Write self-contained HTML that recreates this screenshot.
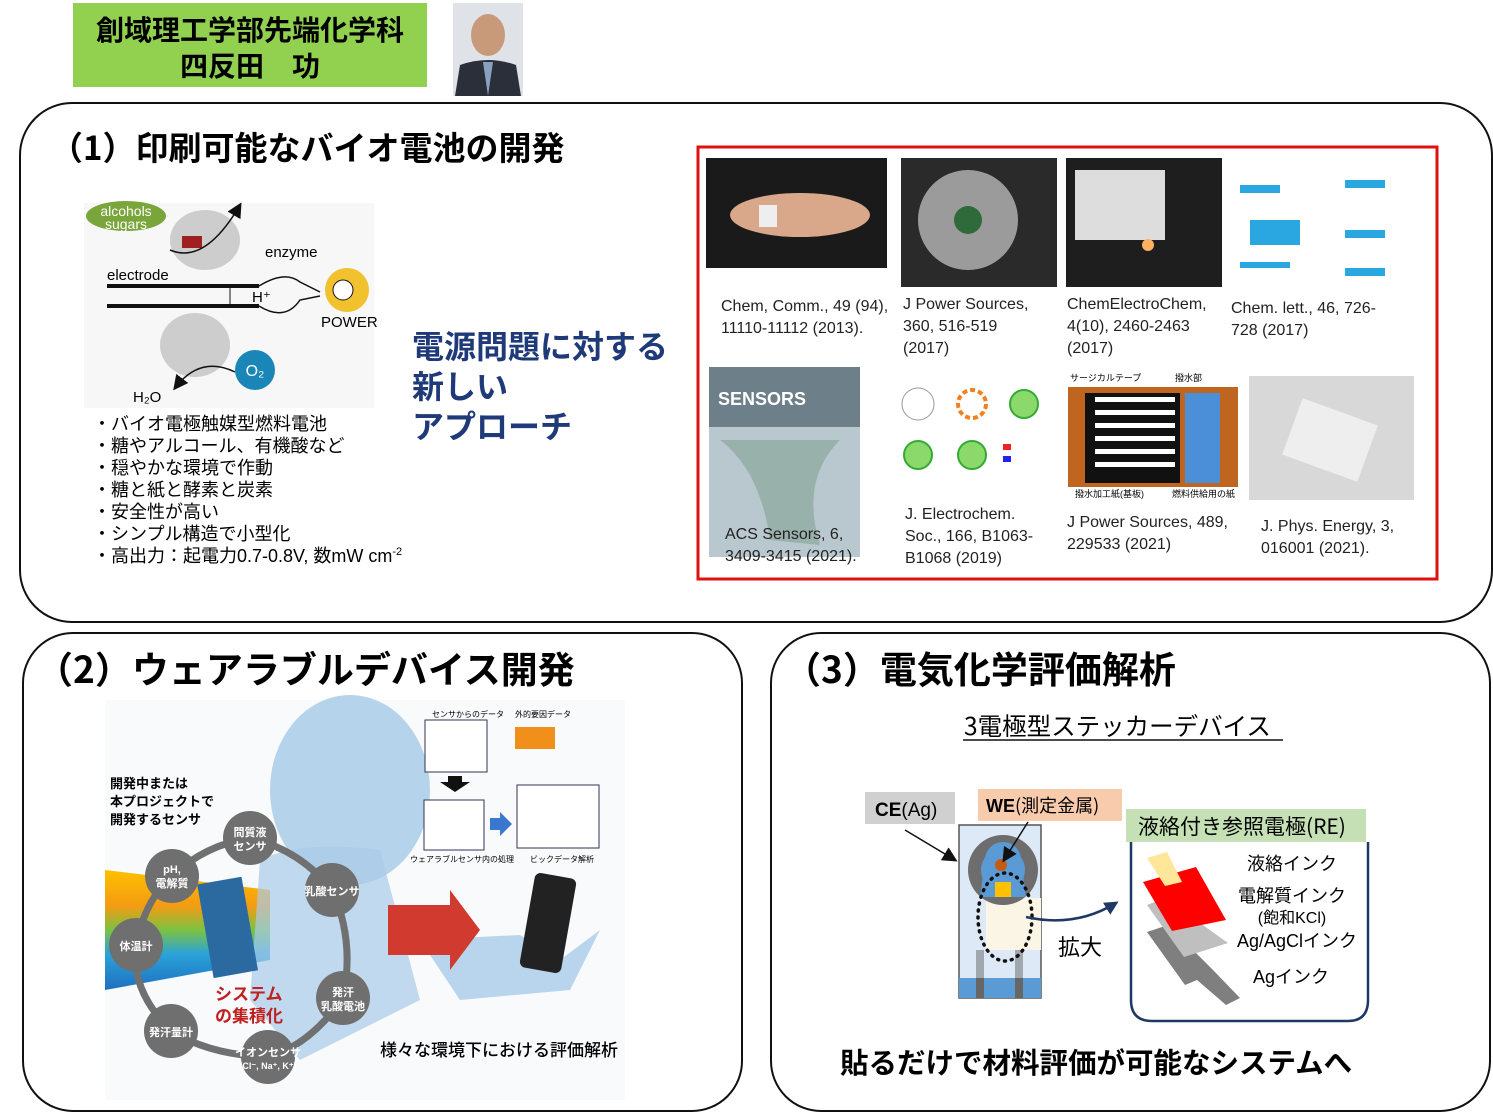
<!DOCTYPE html>
<html><head><meta charset="utf-8"><style>
html,body{margin:0;padding:0;background:#fff;width:1493px;height:1114px;overflow:hidden}
svg{display:block}
text{font-family:"Liberation Sans","Noto Sans CJK JP",sans-serif}
.j{font-family:"Noto Sans CJK JP",sans-serif}
</style></head><body>
<svg width="1493" height="1114" viewBox="0 0 1493 1114" xmlns="http://www.w3.org/2000/svg">
<defs>
<marker id="ar" markerWidth="10" markerHeight="10" refX="8" refY="5" orient="auto"><path d="M0,0 L10,5 L0,10 z" fill="#111"/></marker>
<marker id="arb" markerUnits="userSpaceOnUse" markerWidth="14" markerHeight="14" refX="11" refY="7" orient="auto"><path d="M0,0 L14,7 L0,14 z" fill="#1f3864"/></marker>
<linearGradient id="rb" x1="0" y1="0" x2="0" y2="1">
<stop offset="0" stop-color="#ffc000"/><stop offset="0.3" stop-color="#f39c12"/><stop offset="0.5" stop-color="#7cc242"/><stop offset="0.7" stop-color="#29a3d9"/><stop offset="1" stop-color="#1f6fbf"/></linearGradient>
</defs>
<!-- header -->
<rect x="73" y="3" width="354" height="84" fill="#92d050"/>
<text x="250" y="40" font-size="28" font-weight="bold" text-anchor="middle" class="j">創域理工学部先端化学科</text>
<text x="250" y="76" font-size="28" font-weight="bold" text-anchor="middle" class="j">四反田　功</text>
<rect x="453" y="3" width="70" height="93" fill="#dfe3e8"/>
<ellipse cx="488" cy="35" rx="17" ry="21" fill="#c99a7a"/>
<path d="M455,96 L460,65 Q488,55 516,65 L521,96z" fill="#2b2f3a"/>
<path d="M483,62 L488,96 L493,62z" fill="#8aa0c0"/>

<!-- panel 1 -->
<rect x="20" y="103" width="1472" height="519" rx="52" fill="none" stroke="#111" stroke-width="2"/>
<text x="50" y="160" font-size="33" class="j" font-weight="bold">（1）印刷可能なバイオ電池の開発</text>
<rect x="84" y="203" width="290" height="205" fill="#f7f7f7"/>
<ellipse cx="126" cy="216" rx="40" ry="15" fill="#7aa53a"/>
<text x="126" y="216" font-size="14" fill="#fff" text-anchor="middle">alcohols</text>
<text x="126" y="229" font-size="14" fill="#fff" text-anchor="middle">sugars</text>
<ellipse cx="205" cy="240" rx="35" ry="30" fill="#bbb" opacity="0.7"/>
<ellipse cx="195" cy="345" rx="35" ry="32" fill="#bbb" opacity="0.7"/>
<rect x="182" y="236" width="20" height="12" fill="#a02020"/>
<text x="265" y="257" font-size="15">enzyme</text>
<text x="107" y="280" font-size="15">electrode</text>
<rect x="107" y="284" width="152" height="4" fill="#111"/>
<rect x="107" y="304" width="152" height="4" fill="#111"/>
<path d="M259,286 Q285,270 300,282 L320,292 M259,306 Q285,322 300,300 L320,296" fill="none" stroke="#111" stroke-width="1.5"/>
<circle cx="347" cy="290" r="22" fill="#f2c12e"/>
<circle cx="343" cy="290" r="10" fill="#fff" stroke="#111"/>
<text x="252" y="302" font-size="15">H⁺</text>
<line x1="230" y1="288" x2="230" y2="304" stroke="#111"/>
<text x="321" y="327" font-size="15">POWER</text>
<circle cx="255" cy="370" r="20" fill="#1a86b8"/>
<text x="255" y="376" font-size="16" fill="#fff" text-anchor="middle">O₂</text>
<text x="133" y="402" font-size="15">H₂O</text>
<path d="M170,250 Q205,265 240,205" fill="none" stroke="#111" stroke-width="1.5" marker-end="url(#ar)"/>
<path d="M235,372 Q200,355 175,388" fill="none" stroke="#111" stroke-width="1.5" marker-end="url(#ar)"/>
<g font-size="18" class="j">
<text x="93" y="430">・バイオ電極触媒型燃料電池</text>
<text x="93" y="452">・糖やアルコール、有機酸など</text>
<text x="93" y="474">・穏やかな環境で作動</text>
<text x="93" y="496">・糖と紙と酵素と炭素</text>
<text x="93" y="518">・安全性が高い</text>
<text x="93" y="540">・シンプル構造で小型化</text>
<text x="93" y="562">・高出力：起電力0.7-0.8V, 数mW cm<tspan font-size="11" dy="-7">-2</tspan></text>
</g>
<g font-size="32" font-weight="bold" fill="#1f3a78" class="j">
<text x="412" y="358">電源問題に対する</text>
<text x="412" y="398">新しい</text>
<text x="412" y="438">アプローチ</text>
</g>
<rect x="698" y="147" width="739" height="432" fill="#fff" stroke="#e01010" stroke-width="3"/>
<rect x="706" y="158" width="181" height="110" fill="#1a1a1a"/>
<ellipse cx="800" cy="215" rx="70" ry="22" fill="#d9a88a"/>
<rect x="759" y="205" width="18" height="22" fill="#eee"/>
<rect x="901" y="158" width="156" height="129" fill="#2a2a2a"/>
<circle cx="968" cy="220" r="50" fill="#ccc" opacity="0.7"/>
<circle cx="968" cy="220" r="14" fill="#2f6b3a"/>
<rect x="1066" y="158" width="156" height="129" fill="#1e1e1e"/>
<rect x="1075" y="170" width="90" height="70" fill="#ddd"/>
<circle cx="1148" cy="245" r="6" fill="#ffb060"/>
<g fill="#2aa7e0"><rect x="1240" y="185" width="40" height="8"/><rect x="1345" y="180" width="40" height="8"/><rect x="1250" y="220" width="50" height="25"/><rect x="1345" y="230" width="40" height="8"/><rect x="1240" y="262" width="50" height="6"/><rect x="1345" y="268" width="40" height="8"/></g>
<g font-size="16" fill="#222">
<text x="721" y="311">Chem, Comm., 49 (94),</text>
<text x="721" y="333">11110-11112 (2013).</text>
<text x="903" y="309">J Power Sources,</text>
<text x="903" y="331">360, 516-519</text>
<text x="903" y="353">(2017)</text>
<text x="1067" y="309">ChemElectroChem,</text>
<text x="1067" y="331">4(10), 2460-2463</text>
<text x="1067" y="353">(2017)</text>
<text x="1231" y="313">Chem. lett., 46, 726-</text>
<text x="1231" y="335">728 (2017)</text>
</g>
<rect x="709" y="367" width="151" height="190" fill="#b9c8cf"/>
<rect x="709" y="367" width="151" height="60" fill="#6d7f88"/>
<text x="718" y="405" font-size="18" font-weight="bold" fill="#fff">SENSORS</text>
<path d="M720,440 Q760,470 770,540 L820,545 Q800,480 840,440z" fill="#8aa69a" opacity="0.7"/>
<g font-size="16" fill="#222">
<text x="725" y="539">ACS Sensors, 6,</text>
<text x="725" y="561">3409-3415 (2021).</text>
</g>
<circle cx="918" cy="404" r="16" fill="#fff" stroke="#999"/>
<circle cx="972" cy="404" r="14" fill="none" stroke="#f08020" stroke-width="4" stroke-dasharray="5 3"/>
<circle cx="1024" cy="404" r="14" fill="#8bd96b" stroke="#3a3" stroke-width="2"/>
<circle cx="918" cy="455" r="14" fill="#8bd96b" stroke="#3a3" stroke-width="2"/>
<circle cx="972" cy="455" r="14" fill="#8bd96b" stroke="#3a3" stroke-width="2"/>
<rect x="1003" y="444" width="8" height="6" fill="#e22"/><rect x="1003" y="456" width="8" height="6" fill="#22e"/>
<g font-size="16" fill="#222">
<text x="905" y="519">J. Electrochem.</text>
<text x="905" y="541">Soc., 166, B1063-</text>
<text x="905" y="563">B1068 (2019)</text>
</g>
<rect x="1068" y="387" width="170" height="100" fill="#c0651f"/>
<rect x="1085" y="393" width="95" height="90" fill="#111"/>
<g fill="#fff"><rect x="1095" y="397" width="80" height="5"/><rect x="1095" y="410" width="80" height="5"/><rect x="1095" y="423" width="80" height="5"/><rect x="1095" y="436" width="80" height="5"/><rect x="1095" y="449" width="80" height="5"/><rect x="1095" y="462" width="80" height="5"/></g>
<rect x="1185" y="393" width="35" height="90" fill="#4a8fd8"/>
<text x="1070" y="381" font-size="9">サージカルテープ</text><text x="1175" y="381" font-size="9">撥水部</text>
<text x="1075" y="497" font-size="9">撥水加工紙(基板)</text><text x="1172" y="497" font-size="9">燃料供給用の紙</text>
<g font-size="16" fill="#222">
<text x="1067" y="527">J Power Sources, 489,</text>
<text x="1067" y="549">229533 (2021)</text>
</g>
<rect x="1249" y="376" width="165" height="124" fill="#d8d8d8"/>
<rect x="1290" y="410" width="80" height="60" fill="#eee" transform="rotate(20 1330 440)"/>
<g font-size="16" fill="#222">
<text x="1261" y="531">J. Phys. Energy, 3,</text>
<text x="1261" y="553">016001 (2021).</text>
</g>

<!-- panel 2 -->
<rect x="23" y="633" width="719" height="478" rx="50" fill="none" stroke="#111" stroke-width="2"/>
<text x="36" y="683" font-size="37" class="j" font-weight="bold">（2）ウェアラブルデバイス開発</text>
<rect x="105" y="700" width="520" height="400" fill="#f8fafc"/>
<path d="M105,870 L270,890 L270,960 L105,990z" fill="url(#rb)"/>
<ellipse cx="350" cy="790" rx="80" ry="95" fill="#a9cbe8" opacity="0.85"/>
<path d="M260,860 Q300,840 380,850 L420,1000 L300,1060 L250,1000z" fill="#a9cbe8" opacity="0.7"/>
<path d="M420,940 L520,935 L560,960 L600,930 L570,990 L460,1000z" fill="#a9cbe8" opacity="0.8"/>
<path d="M388,905 L450,905 L450,890 L480,930 L450,970 L450,955 L388,955z" fill="#d03a2f"/>
<rect x="527" y="875" width="42" height="96" rx="6" fill="#222" transform="rotate(10 548 923)"/>
<rect x="205" y="880" width="45" height="95" fill="#2b6aa0" transform="rotate(-10 227 927)"/>
<path d="M250,838 Q300,850 332,890 Q355,940 343,998 Q310,1045 268,1057 Q210,1055 171,1031 Q130,990 136,945 Q145,900 172,876 Q205,845 250,838z" fill="none" stroke="#707070" stroke-width="7"/>
<g fill="#6f6f6f">
<circle cx="250" cy="838" r="27"/><circle cx="172" cy="876" r="27"/><circle cx="332" cy="890" r="27"/><circle cx="136" cy="945" r="27"/><circle cx="171" cy="1031" r="27"/><circle cx="343" cy="998" r="27"/><circle cx="268" cy="1057" r="27"/>
</g>
<g font-size="11" fill="#fff" text-anchor="middle" class="j" font-weight="bold">
<text x="250" y="836">間質液</text><text x="250" y="850">センサ</text>
<text x="172" y="873">pH,</text><text x="172" y="887">電解質</text>
<text x="332" y="895">乳酸センサ</text>
<text x="136" y="950">体温計</text>
<text x="171" y="1036">発汗量計</text>
<text x="343" y="996">発汗</text><text x="343" y="1010">乳酸電池</text>
<text x="268" y="1056">イオンセンサ</text><text x="268" y="1069" font-size="9">(Cl⁻, Na⁺, K⁺)</text>
</g>
<g font-size="13" font-weight="bold" class="j"><text x="110" y="788">開発中または</text><text x="110" y="806">本プロジェクトで</text><text x="110" y="824">開発するセンサ</text></g>
<g font-size="17" font-weight="bold" fill="#c0201f" class="j"><text x="215" y="1000">システム</text><text x="215" y="1022">の集積化</text></g>
<text x="380" y="1056" font-size="17" class="j" font-weight="500">様々な環境下における評価解析</text>
<rect x="425" y="720" width="62" height="52" fill="#fff" stroke="#335"/>
<rect x="515" y="727" width="40" height="22" fill="#f0901a"/>
<rect x="424" y="800" width="60" height="50" fill="#fff" stroke="#335"/>
<rect x="517" y="785" width="82" height="63" fill="#fff" stroke="#335"/>
<path d="M448,776 L462,776 L462,782 L470,782 L455,792 L440,782 L448,782z" fill="#111"/>
<path d="M490,818 L500,818 L500,812 L512,824 L500,836 L500,830 L490,830z" fill="#3a78d0"/>
<g font-size="8" class="j"><text x="432" y="717">センサからのデータ</text><text x="515" y="717">外的要因データ</text><text x="410" y="862">ウェアラブルセンサ内の処理</text><text x="530" y="862">ビックデータ解析</text></g>

<!-- panel 3 -->
<rect x="771" y="633" width="719" height="478" rx="50" fill="none" stroke="#111" stroke-width="2"/>
<text x="784" y="683" font-size="37" class="j" font-weight="bold">（3）電気化学評価解析</text>
<text x="964" y="735" font-size="24.5" class="j">3電極型ステッカーデバイス</text>
<line x1="963" y1="740" x2="1283" y2="740" stroke="#111" stroke-width="1.5"/>
<rect x="865" y="792" width="90" height="32" fill="#d0d0d0"/>
<text x="875" y="816" font-size="19"><tspan font-weight="bold">CE</tspan>(Ag)</text>
<rect x="978" y="789" width="144" height="32" fill="#f8cbad"/>
<text x="986" y="812" font-size="18" class="j"><tspan font-weight="bold" font-family="Liberation Sans">WE</tspan>(測定金属)</text>
<rect x="1126" y="809" width="240" height="33" fill="#c5e0b4"/>
<text x="1138" y="834" font-size="21" class="j">液絡付き参照電極(RE)</text>
<rect x="959" y="825" width="82" height="173" fill="#dde9f6" stroke="#555" stroke-width="1.5"/>
<rect x="959" y="978" width="82" height="20" fill="#5b9bd5"/>
<rect x="976" y="950" width="8" height="48" fill="#666" opacity="0.5"/><rect x="1015" y="950" width="8" height="48" fill="#666" opacity="0.5"/>
<rect x="976" y="978" width="8" height="20" fill="#666"/><rect x="1015" y="978" width="8" height="20" fill="#666"/>
<rect x="986" y="898" width="55" height="52" fill="#fbf5e6"/>
<circle cx="1003" cy="870" r="35" fill="#6d6d6d"/>
<path d="M985,860 A18,18 0 0 1 1021,860 L1026,897 L980,897z" fill="#5b9bd5"/>
<circle cx="1003" cy="870" r="22" fill="#5b9bd5"/>
<circle cx="1001" cy="865" r="6" fill="#c55a11"/>
<rect x="995" y="882" width="16" height="15" fill="#ffc000"/>
<ellipse cx="1005" cy="917" rx="27" ry="44" fill="none" stroke="#111" stroke-width="3.5" stroke-dasharray="1 6" stroke-linecap="round"/>
<line x1="905" y1="830" x2="955" y2="860" stroke="#111" stroke-width="1.5" marker-end="url(#ar)"/>
<line x1="1028" y1="822" x2="1004" y2="860" stroke="#111" stroke-width="1.5" marker-end="url(#ar)"/>
<path d="M1026,917 Q1075,928 1116,903" fill="none" stroke="#1f3864" stroke-width="2.5" marker-end="url(#arb)"/>
<text x="1058" y="955" font-size="22" class="j">拡大</text>
<path d="M1131,842 L1131,1000 Q1131,1021 1152,1021 L1348,1021 Q1368,1021 1368,1000 L1368,842" fill="none" stroke="#1f3864" stroke-width="2.5"/>
<path d="M1147,932 L1168,925 L1213,970 L1240,998 L1226,1005 L1197,980 L1185,985z" fill="#7f7f7f"/>
<path d="M1147,905 L1165,898 L1228,943 L1184,957z" fill="#bfbfbf"/>
<path d="M1143,882 L1196,867 L1226,920 L1172,931z" fill="#ff0000"/>
<path d="M1147,858 L1167,852 L1182,882 L1165,886z" fill="#ffe699"/>
<g font-size="18" class="j" text-anchor="middle">
<text x="1292" y="870">液絡インク</text>
<text x="1292" y="902">電解質インク</text>
<text x="1292" y="923" font-size="16" font-family="Liberation Sans">(飽和KCl)</text>
<text x="1297" y="947">Ag/AgClインク</text>
<text x="1291" y="983">Agインク</text>
</g>
<text x="840" y="1073" font-size="28.5" class="j" font-weight="bold">貼るだけで材料評価が可能なシステムへ</text>
</svg>
</body></html>
